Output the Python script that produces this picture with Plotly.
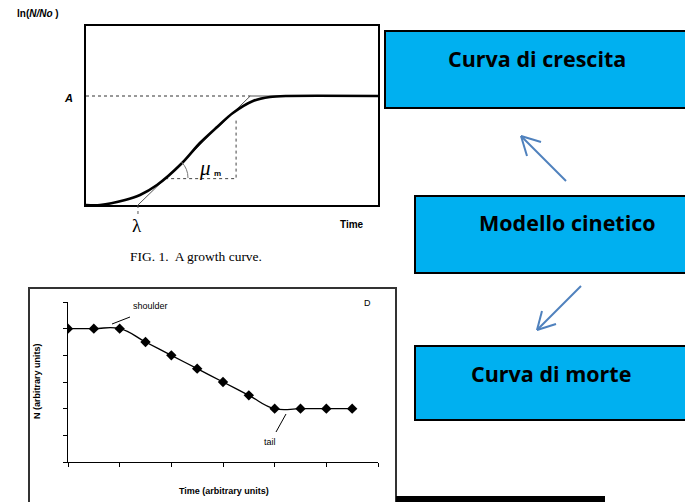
import plotly.graph_objects as go

W, H = 685, 502

# Growth curve: ln(N/No) against time (asymptote A = 1)
growth_t = [0.0, 0.48, 1.34, 1.85, 2.43, 3.29, 3.90, 4.49, 5.03, 5.72, 6.30, 6.88, 10.0]
growth_lnN = [0.0, 0.0, 0.046, 0.092, 0.183, 0.385, 0.569, 0.716, 0.844, 0.954, 0.991, 1.0, 1.0]
asymptote = 1.0
lag_time = 1.78
mu_max = 0.26
mu_triangle_t = [2.71, 5.14]
mu_triangle_top = 0.80

# Death curve: N against time (arbitrary units)
death_time = [0, 1, 2, 3, 4, 5, 6, 7, 8, 9, 10, 11]
death_N = [5, 5, 5, 4.5, 4, 3.5, 3, 2.5, 2, 2, 2, 2]

# Flow-chart boxes
box_labels = ["Curva di crescita", "Modello cinetico", "Curva di morte"]


def px(x):
    return x / W


def py(y):
    return 1 - y / H


top_dom_x = [px(86), px(378)]
top_dom_y = [py(205), py(26)]
top_xr = [0, 10]
top_yr = [0, 179 / 109]


def top_to_paper(t, v):
    xp = top_dom_x[0] + (t - top_xr[0]) / (top_xr[1] - top_xr[0]) * (top_dom_x[1] - top_dom_x[0])
    yp = top_dom_y[0] + (v - top_yr[0]) / (top_yr[1] - top_yr[0]) * (top_dom_y[1] - top_dom_y[0])
    return xp, yp


fig = go.Figure()

# ---- growth curve panel ----
tangent_end = lag_time + asymptote / mu_max
fig.add_trace(go.Scatter(
    x=[lag_time, tangent_end, top_xr[1]], y=[0, asymptote, asymptote],
    mode="lines", line=dict(color="#555555", width=1),
    xaxis="x2", yaxis="y2", hoverinfo="skip"))
fig.add_trace(go.Scatter(
    x=[0, tangent_end], y=[asymptote, asymptote],
    mode="lines", line=dict(color="#333333", width=1, dash="dot"),
    xaxis="x2", yaxis="y2", hoverinfo="skip"))
fig.add_trace(go.Scatter(
    x=[mu_triangle_t[0], mu_triangle_t[1], mu_triangle_t[1]],
    y=[(mu_triangle_t[0] - lag_time) * mu_max, (mu_triangle_t[0] - lag_time) * mu_max, mu_triangle_top],
    mode="lines", line=dict(color="#444444", width=1, dash="dot"),
    xaxis="x2", yaxis="y2", hoverinfo="skip"))
fig.add_trace(go.Scatter(
    x=growth_t, y=growth_lnN, mode="lines",
    line=dict(color="black", width=2.6, shape="spline", smoothing=0.8),
    xaxis="x2", yaxis="y2", hoverinfo="skip"))

# ---- death curve panel ----
fig.add_trace(go.Scatter(
    x=death_time, y=death_N, mode="lines+markers",
    line=dict(color="black", width=1.3, shape="spline", smoothing=1.3),
    marker=dict(symbol="diamond", size=8, color="black"),
    xaxis="x", yaxis="y", hoverinfo="skip"))

shapes = []


def tp(xpix, ypix):
    return (xpix - 86) / 29.2, (205 - ypix) / 109


# angle arc for the maximum specific growth rate
a1 = tp(188, 178)
c1 = tp(188, 168.7)
a2 = tp(181.5, 162)
shapes.append(dict(type="path", xref="x2", yref="y2",
                   path=f"M {a1[0]},{a1[1]} Q {c1[0]},{c1[1]} {a2[0]},{a2[1]}",
                   line=dict(color="#777777", width=1)))

# lag-time drop line below the frame
lx, ly = top_to_paper(lag_time, 0)
shapes.append(dict(type="line", xref="paper", yref="paper",
                   x0=lx, y0=ly, x1=lx, y1=py(217),
                   line=dict(color="#555555", width=1, dash="dot")))

# frame around the death-curve figure
shapes.append(dict(type="rect", xref="paper", yref="paper",
                   x0=px(29), y0=py(520), x1=px(396), y1=py(288),
                   line=dict(color="#333333", width=2), layer="below"))
shapes.append(dict(type="rect", xref="paper", yref="paper",
                   x0=px(396), y0=py(503), x1=px(605), y1=py(496),
                   fillcolor="black", line=dict(width=0)))

# shoulder / tail pointers
shapes.append(dict(type="line", xref="paper", yref="paper",
                   x0=px(112), y0=py(324), x1=px(130), y1=py(317),
                   line=dict(color="black", width=1)))
shapes.append(dict(type="line", xref="paper", yref="paper",
                   x0=px(286), y0=py(414), x1=px(276), y1=py(432),
                   line=dict(color="black", width=1)))

# flow-chart boxes
box_pix = [(385, 31, 108), (415, 196, 273), (415, 346, 420)]
for x0, y0, y1 in box_pix:
    shapes.append(dict(type="rect", xref="paper", yref="paper",
                       x0=px(x0), y0=py(y1), x1=px(700), y1=py(y0),
                       fillcolor="#00B0F0", line=dict(color="black", width=2)))

# arrows between boxes
arrow_col = "#4F81BD"
arrows = [((566, 181), (521, 136), (541, 142), (527, 156)),
          ((581, 286), (537, 330), (556, 324), (542, 311))]
for tail, tip, w1, w2 in arrows:
    for a, b in ((tail, tip), (tip, w1), (tip, w2)):
        shapes.append(dict(type="line", xref="paper", yref="paper",
                           x0=px(a[0]), y0=py(a[1]), x1=px(b[0]), y1=py(b[1]),
                           line=dict(color=arrow_col, width=2)))

annotations = []


def label(text, x, y, size, family="Liberation Sans", color="black", angle=0, xanchor="center"):
    annotations.append(dict(text=text, x=px(x), y=py(y), xref="paper", yref="paper",
                            showarrow=False, xanchor=xanchor, yanchor="middle",
                            textangle=angle,
                            font=dict(size=size, family=family, color=color)))


# growth panel texts
label("<b>ln(<i>N/No</i> )</b>", 38, 14, 10)
label("<b><i>A</i></b>", 68, 98, 11)
label("<b>Time</b>", 352, 224, 10)
label("λ", 137, 225, 19, family="Liberation Serif")
label("<i>μ</i>", 205, 168, 21, family="Liberation Serif")
label("<b>m</b>", 217, 173, 8)
label("FIG. 1.  A growth curve.", 196, 256, 13.5, family="Liberation Serif")

# death panel texts
label("shoulder", 150, 306, 9)
label("D", 367, 303, 9)
label("tail", 270, 442, 9)
label("<b>N (arbitrary units)</b>", 37, 381, 9, angle=-90)
label("<b>Time (arbitrary units)</b>", 224, 491, 9)

# box texts
label("<b>" + box_labels[0] + "</b>", 537, 58, 21.5, family="Open Sans")
label("<b>" + box_labels[1] + "</b>", 567, 222, 21.5, family="Open Sans")
label("<b>" + box_labels[2] + "</b>", 551, 373, 21.5, family="Open Sans")

fig.update_layout(
    width=W, height=H,
    margin=dict(l=0, r=0, t=0, b=0),
    paper_bgcolor="white", plot_bgcolor="white",
    showlegend=False,
    shapes=shapes,
    annotations=annotations,
    xaxis=dict(domain=[px(68), px(378)], range=[0, 12], dtick=2, tick0=0,
               ticks="outside", ticklen=4, tickwidth=1, tickcolor="black",
               showticklabels=False, showgrid=False, zeroline=False,
               showline=True, linecolor="black", linewidth=1),
    yaxis=dict(domain=[py(462), py(302)], range=[0, 6], dtick=1, tick0=0,
               ticks="outside", ticklen=4, tickwidth=1, tickcolor="black",
               showticklabels=False, showgrid=False, zeroline=False,
               showline=True, linecolor="black", linewidth=1),
    xaxis2=dict(domain=top_dom_x, range=top_xr, anchor="y2",
                showticklabels=False, ticks="", showgrid=False, zeroline=False,
                showline=True, mirror=True, linecolor="black", linewidth=2),
    yaxis2=dict(domain=top_dom_y, range=top_yr, anchor="x2",
                showticklabels=False, ticks="", showgrid=False, zeroline=False,
                showline=True, mirror=True, linecolor="black", linewidth=2),
)

fig.write_html("out.html")
